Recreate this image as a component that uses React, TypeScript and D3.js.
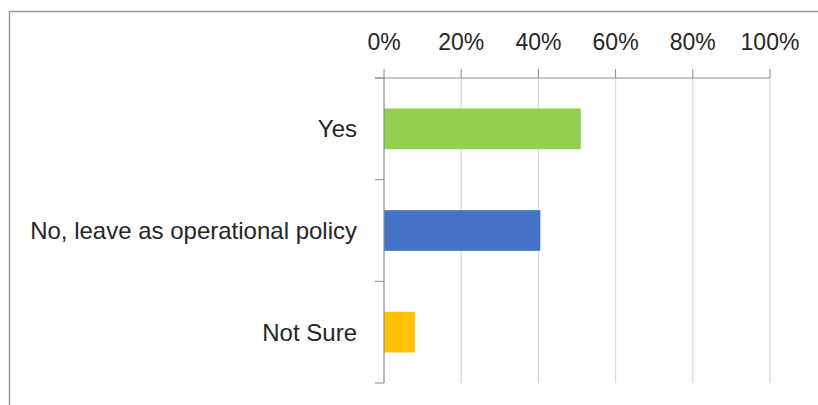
import React from "react";
import * as d3 from "d3";

const categories = ["Yes", "No, leave as operational policy", "Not Sure"];
const values = [0.51, 0.405, 0.08];
const colors = ["#92D050", "#4472C4", "#FFC000"];
const tickValues = [0, 0.2, 0.4, 0.6, 0.8, 1.0];

const W = 818;
const H = 405;
const x0 = 384;
const x1 = 770;
const y0 = 78;
const y1 = 383;

export default function App() {
  const x = d3.scaleLinear().domain([0, 1]).range([x0, x1]);
  const y = d3
    .scaleBand<string>()
    .domain(categories)
    .range([y0, y1])
    .paddingInner(0.6)
    .paddingOuter(0.3);
  const step = y.step();
  const fmt = d3.format(".0%");
  const font = "'Liberation Sans', Arial, sans-serif";
  return (
    <div style={{ position: "absolute", left: 0, top: 0 }}>
      <svg width={W} height={H} style={{ display: "block" }}>
        <rect x={0} y={0} width={W} height={H} fill="#fff" />
        <rect x={9.5} y={11.5} width={W + 20} height={H + 20} fill="none" stroke="#9a9a9a" strokeWidth={1.5} />
        {tickValues.map((t, i) => (
          <g key={i}>
            {t > 0 && (
              <line x1={x(t)} x2={x(t)} y1={y0} y2={y1} stroke="#d9d9d9" strokeWidth={1.2} />
            )}
            <line x1={x(t)} x2={x(t)} y1={y0 - 9} y2={y0} stroke="#8c8c8c" strokeWidth={1} />
            <text
              x={x(t)}
              y={50}
              textAnchor="middle"
              fontFamily={font}
              fontSize={23}
              fill="#262626"
            >
              {fmt(t)}
            </text>
          </g>
        ))}
        {categories.map((c, i) => (
          <rect
            key={c}
            x={x(0)}
            y={y(c)!}
            width={x(values[i]) - x(0)}
            height={y.bandwidth()}
            fill={colors[i]}
          />
        ))}
        <line x1={x0 - 9} x2={x1} y1={y0} y2={y0} stroke="#8c8c8c" strokeWidth={1} />
        <line x1={x0} x2={x0} y1={y0} y2={y1} stroke="#8c8c8c" strokeWidth={1.2} />
        {d3.range(categories.length + 1).map((k) => (
          <line
            key={k}
            x1={x0 - 9}
            x2={x0}
            y1={y0 + k * step}
            y2={y0 + k * step}
            stroke="#8c8c8c"
            strokeWidth={1}
          />
        ))}
        {categories.map((c) => (
          <text
            key={c}
            x={357}
            y={y(c)! + y.bandwidth() / 2}
            dy="0.35em"
            textAnchor="end"
            fontFamily={font}
            fontSize={24}
            fill="#262626"
          >
            {c}
          </text>
        ))}
      </svg>
    </div>
  );
}
